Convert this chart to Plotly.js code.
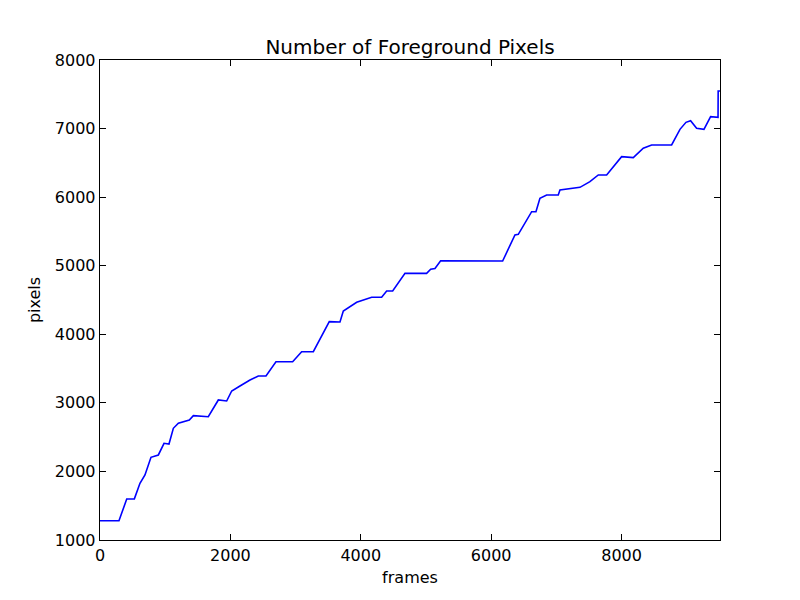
<!DOCTYPE html>
<html>
<head>
<meta charset="utf-8">
<script src="https://cdn.plot.ly/plotly-3.0.1.min.js"></script>
<style>html,body{margin:0;padding:0;background:#fff;}#chart{width:800px;height:600px;}</style>
</head>
<body>
<div id="chart"></div>
<script>
const frames = [0,291,410,527,613,690,782,895,982,1058,1125,1202,1370,1432,1661,1815,1943,2020,2147,2301,2428,2546,2699,2955,3093,3272,3517,3681,3732,3937,4167,4320,4397,4489,4678,5010,5072,5138,5225,6176,6365,6416,6621,6687,6748,6851,7029,7055,7362,7515,7643,7771,8001,8180,8333,8461,8768,8896,8988,9059,9151,9264,9366,9480,9482,9510];
const pixels = [1280,1280,1598,1600,1827,1948,2206,2240,2410,2400,2629,2702,2750,2813,2798,3042,3027,3173,3246,3333,3392,3392,3600,3600,3746,3746,4184,4180,4340,4466,4540,4540,4631,4631,4889,4889,4948,4960,5073,5068,5448,5458,5788,5788,5983,6031,6031,6104,6143,6225,6323,6323,6590,6576,6713,6761,6761,6989,7091,7115,7004,6989,7174,7165,7548,7548];
const xTicks = [0,2000,4000,6000,8000];
const yTicks = [1000,2000,3000,4000,5000,6000,7000,8000];

const font = {family: 'DejaVu Sans, sans-serif', size: 16, color: '#000'};
const axisCommon = {
  showline: true, linecolor: '#000', linewidth: 1.3, mirror: 'ticks',
  ticks: 'inside', ticklen: 6, tickwidth: 1, tickcolor: '#000',
  showgrid: false, zeroline: false, tickfont: font
};
Plotly.newPlot('chart', [{
  x: frames, y: pixels, type: 'scatter', mode: 'lines',
  line: {color: '#0000ff', width: 1.6}, hoverinfo: 'skip'
}], {
  width: 800, height: 600,
  margin: {l: 100, r: 80, t: 60, b: 60},
  paper_bgcolor: '#fff', plot_bgcolor: '#fff',
  showlegend: false,
  title: {text: 'Number of Foreground Pixels', font: {family: 'DejaVu Sans, sans-serif', size: 20, color: '#000'}, x: 0.5125, xanchor: 'center', y: 0.922, yanchor: 'middle'},
  xaxis: Object.assign({}, axisCommon, {range: [0, 9510], tickvals: xTicks, ticktext: xTicks.map(String),
    title: {text: 'frames', font: font, standoff: 8}}),
  yaxis: Object.assign({}, axisCommon, {range: [1000, 8000], tickvals: yTicks, ticktext: yTicks.map(String),
    title: {text: 'pixels', font: font, standoff: 10}})
}, {displayModeBar: false, staticPlot: true});
</script>
</body>
</html>
